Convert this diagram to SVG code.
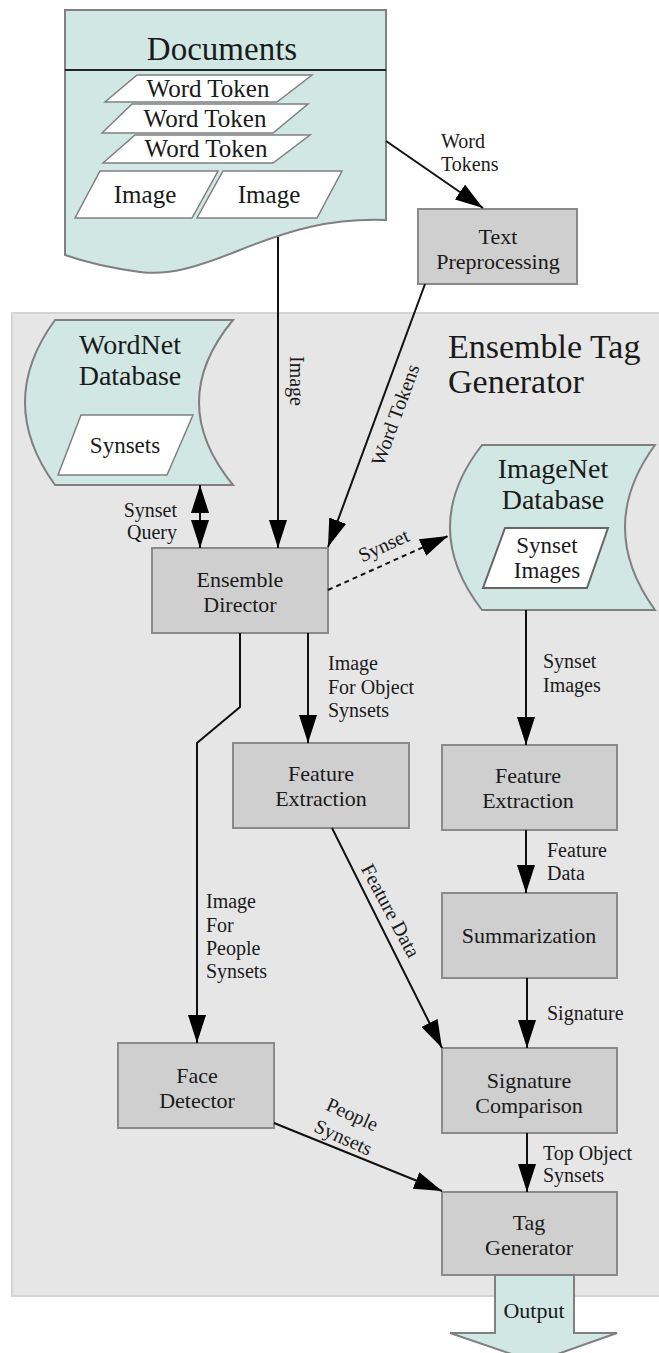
<svg xmlns="http://www.w3.org/2000/svg" width="659" height="1353" viewBox="0 0 659 1353" font-family="'Liberation Serif', 'DejaVu Serif', serif">
<style>
text{font-family:"Liberation Serif","DejaVu Serif",serif;fill:#1a1a1a}
.teal{fill:#d0e7e4;stroke:#808080;stroke-width:2}
.box{fill:#cfcfcf;stroke:#8a8a8a;stroke-width:2}
.para{fill:#ffffff;stroke:#808080;stroke-width:1.5}
.lbl{font-size:20px}
.node{font-size:22px;text-anchor:middle}
.big{font-size:34px}
.db{font-size:28px;text-anchor:middle}
.tok{font-size:25px;text-anchor:middle}
.ptxt{font-size:23px;text-anchor:middle}
.edge{fill:none;stroke:#111;stroke-width:2}
</style>
<defs>
<marker id="ah" viewBox="0 0 28 18" refX="28" refY="9" markerWidth="28" markerHeight="18" markerUnits="userSpaceOnUse" orient="auto-start-reverse">
<path d="M0,0 L28,9 L0,18 Z" fill="#000"/>
</marker>
</defs>
<g id="ensemble-tag-generator">
<rect x="12" y="313" width="660" height="983" fill="#e6e6e6" stroke="#d4d4d4" stroke-width="2"/>
<text class="big" x="448" y="358">Ensemble Tag</text>
<text class="big" x="448" y="393">Generator</text>
</g>

<g id="documents">
<path class="teal" d="M65,10 L386,10 L386,220 C330,218 290,230 240,250 C200,266 170,276 140,272 C110,268 85,262 65,255 Z"/>
<line x1="65" y1="70" x2="386" y2="70" stroke="#222" stroke-width="2"/>
<text class="big" x="222" y="60" text-anchor="middle" style="font-size:33px">Documents</text>
<polygon class="para" points="137,75 312,75 277,102 105,102"/>
<text class="tok" x="208" y="97">Word Token</text>
<polygon class="para" points="132,104 308,104 273,133 102,133"/>
<text class="tok" x="205" y="127">Word Token</text>
<polygon class="para" points="135,135 310,135 273,163 103,163"/>
<text class="tok" x="206" y="157">Word Token</text>
<polygon class="para" points="100,171 218,171 192,218 75,218"/>
<text class="tok" x="145" y="203">Image</text>
<polygon class="para" points="223,171 342,171 317,218 197,218"/>
<text class="tok" x="269" y="203">Image</text>
</g>

<g id="text-preprocessing">
<rect class="box" x="418" y="209" width="159" height="75"/>
<text class="node" x="498" y="244">Text</text>
<text class="node" x="498" y="269">Preprocessing</text>
</g>

<g id="wordnet">
<path class="teal" d="M55,320 L233,320 Q165,402 233,485 L55,485 Q-5,402 55,320 Z"/>
<text class="db" x="130" y="354">WordNet</text>
<text class="db" x="130" y="385">Database</text>
<polygon class="para" points="81,415 193,415 167,475 58,475"/>
<text class="ptxt" x="125" y="453">Synsets</text>
</g>

<g id="imagenet">
<path class="teal" d="M482,445 L655,445 Q595,527 655,610 L482,610 Q418,527 482,445 Z"/>
<text class="db" x="553" y="478">ImageNet</text>
<text class="db" x="553" y="509">Database</text>
<polygon class="para" points="505,528 608,528 587,588 483,588" style="stroke:#666;stroke-width:2"/>
<text class="ptxt" x="547" y="553">Synset</text>
<text class="ptxt" x="547" y="578">Images</text>
</g>

<g id="ensemble-director">
<rect class="box" x="152" y="548" width="176" height="85"/>
<text class="node" x="240" y="587">Ensemble</text>
<text class="node" x="240" y="612">Director</text>
</g>

<g id="feature-extraction-left">
<rect class="box" x="233" y="743" width="176" height="85"/>
<text class="node" x="321" y="781">Feature</text>
<text class="node" x="321" y="806">Extraction</text>
</g>

<g id="feature-extraction-right">
<rect class="box" x="442" y="745" width="175" height="85"/>
<text class="node" x="528" y="783">Feature</text>
<text class="node" x="528" y="808">Extraction</text>
</g>

<g id="summarization">
<rect class="box" x="442" y="893" width="175" height="85"/>
<text class="node" x="529" y="943">Summarization</text>
</g>

<g id="signature-comparison">
<rect class="box" x="442" y="1048" width="175" height="85"/>
<text class="node" x="529" y="1088">Signature</text>
<text class="node" x="529" y="1113">Comparison</text>
</g>

<g id="face-detector">
<rect class="box" x="118" y="1043" width="156" height="85"/>
<text class="node" x="197" y="1083">Face</text>
<text class="node" x="197" y="1108">Detector</text>
</g>

<g id="tag-generator">
<rect class="box" x="442" y="1192" width="175" height="83"/>
<text class="node" x="529" y="1230">Tag</text>
<text class="node" x="529" y="1255">Generator</text>
</g>

<g id="output">
<path class="teal" d="M495,1275 L574,1275 L574,1333 L617,1333 L535,1362 L450,1333 L495,1333 Z"/>
<text x="534" y="1318" style="font-size:22px;text-anchor:middle">Output</text>
</g>

<g id="connectors">
<line class="edge" x1="386" y1="141" x2="483" y2="208" marker-end="url(#ah)"/>
<line class="edge" x1="278" y1="237" x2="278" y2="548" marker-end="url(#ah)"/>
<line class="edge" x1="425" y1="284" x2="328" y2="547" marker-end="url(#ah)"/>
<line class="edge" x1="200" y1="485" x2="200" y2="548" marker-start="url(#ah)" marker-end="url(#ah)"/>
<line class="edge" x1="328" y1="590" x2="448" y2="536" stroke-dasharray="5,4" marker-end="url(#ah)"/>
<line class="edge" x1="308" y1="633" x2="308" y2="743" marker-end="url(#ah)"/>
<polyline class="edge" points="240,633 240,707 197,743 197,1043" marker-end="url(#ah)"/>
<line class="edge" x1="526" y1="610" x2="526" y2="745" marker-end="url(#ah)"/>
<line class="edge" x1="526" y1="830" x2="526" y2="893" marker-end="url(#ah)"/>
<line class="edge" x1="527" y1="978" x2="527" y2="1048" marker-end="url(#ah)"/>
<line class="edge" x1="332" y1="828" x2="442" y2="1048" marker-end="url(#ah)"/>
<line class="edge" x1="527" y1="1133" x2="527" y2="1192" marker-end="url(#ah)"/>
<line class="edge" x1="274" y1="1123" x2="442" y2="1191" marker-end="url(#ah)"/>

<text class="lbl" x="441" y="148">Word</text>
<text class="lbl" x="441" y="171">Tokens</text>
<text class="lbl" transform="translate(290,381) rotate(90)" text-anchor="middle">Image</text>
<text class="lbl" transform="translate(396,415) rotate(-70)" text-anchor="middle" y="6">Word Tokens</text>
<text class="lbl" x="177" y="517" text-anchor="end">Synset</text>
<text class="lbl" x="177" y="539" text-anchor="end">Query</text>
<text class="lbl" transform="translate(384,546) rotate(-24.6)" text-anchor="middle" y="6">Synset</text>
<text class="lbl" x="328" y="670">Image</text>
<text class="lbl" x="328" y="694">For Object</text>
<text class="lbl" x="328" y="717">Synsets</text>
<text class="lbl" x="543" y="668">Synset</text>
<text class="lbl" x="543" y="692">Images</text>
<text class="lbl" x="547" y="857">Feature</text>
<text class="lbl" x="547" y="880">Data</text>
<text class="lbl" transform="translate(390,911) rotate(62)" text-anchor="middle" y="6">Feature Data</text>
<text class="lbl" x="206" y="908">Image</text>
<text class="lbl" x="206" y="932">For</text>
<text class="lbl" x="206" y="955">People</text>
<text class="lbl" x="206" y="978">Synsets</text>
<text class="lbl" x="547" y="1020">Signature</text>
<text class="lbl" x="543" y="1160">Top Object</text>
<text class="lbl" x="543" y="1182">Synsets</text>
<text class="lbl" transform="translate(352,1115) rotate(24)" text-anchor="middle" y="6">People</text>
<text class="lbl" transform="translate(343,1138) rotate(24)" text-anchor="middle" y="6">Synsets</text>
</g>
</svg>
